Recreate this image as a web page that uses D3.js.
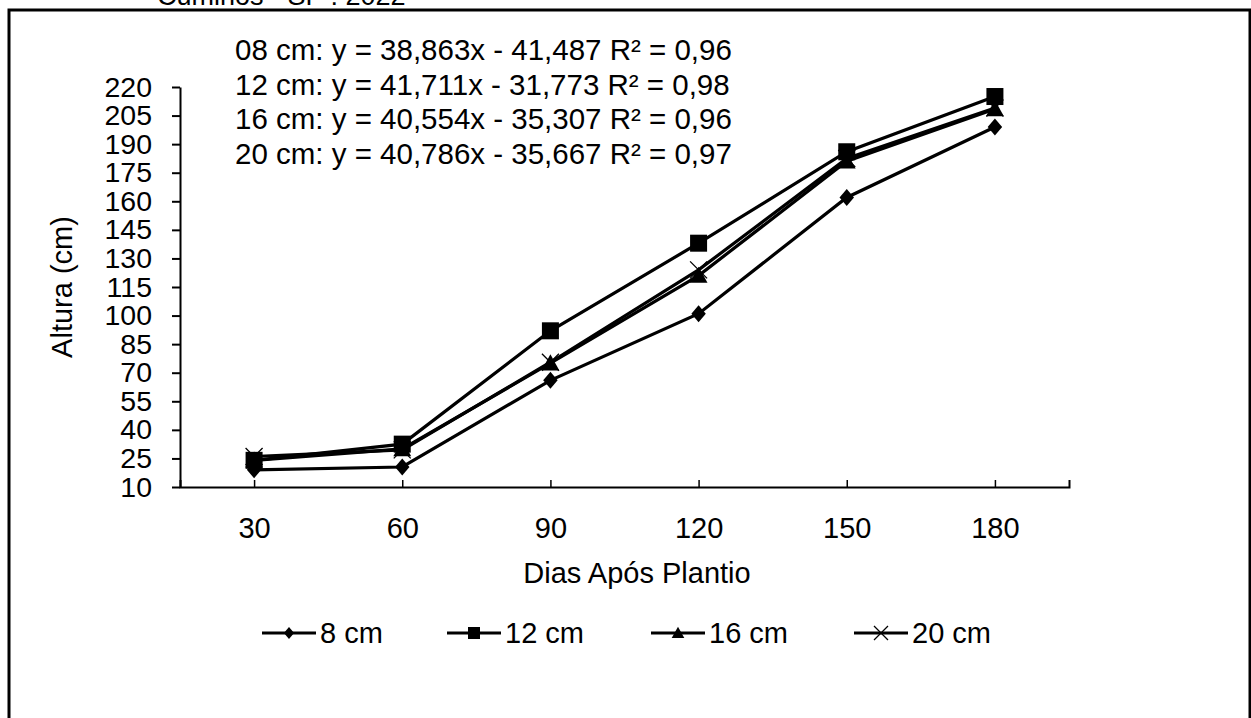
<!DOCTYPE html>
<html>
<head>
<meta charset="utf-8">
<script src="https://cdn.jsdelivr.net/npm/d3@7"></script>
<style>
  html, body { margin: 0; padding: 0; background: #fff; }
  svg { display: block; font-family: "Liberation Sans", Arial, sans-serif; }
</style>
</head>
<body>
<script>
// dias após plantio
const dias = ["30", "60", "90", "120", "150", "180"];

// altura (cm)
const alt08 = [19, 20.5, 66, 101, 162, 199];
const alt12 = [24, 32.5, 92, 138, 186, 215];
const alt16 = [24, 30, 75, 121, 181, 208.5];
const alt20 = [26, 29.5, 75.5, 124, 182.5, 209];

const series = [
  { nome: "8 cm", valores: alt08, marca: "diamond" },
  { nome: "12 cm", valores: alt12, marca: "square" },
  { nome: "16 cm", valores: alt16, marca: "triangle" },
  { nome: "20 cm", valores: alt20, marca: "x" },
];

const yTicks = d3.range(10, 221, 15);

const equacoes = [
  "08 cm: y = 38,863x - 41,487 R² = 0,96",
  "12 cm: y = 41,711x - 31,773 R² = 0,98",
  "16 cm: y = 40,554x - 35,307 R² = 0,96",
  "20 cm: y = 40,786x - 35,667 R² = 0,97",
];

const width = 1251;
const height = 718;
const fs = 29;

const svg = d3.select("body").append("svg")
  .attr("width", width)
  .attr("height", height);

// moldura
svg.append("rect")
  .attr("x", 9).attr("y", 10)
  .attr("width", 1241).attr("height", 730)
  .attr("fill", "none").attr("stroke", "#000").attr("stroke-width", 3);

// título cortado no topo
svg.append("text")
  .attr("x", 157).attr("y", 5)
  .attr("font-size", 27)
  .text("Cuminos - SP : 2022");

const x = d3.scalePoint().domain(dias).range([180, 1069]).padding(0.5);
const y = d3.scaleLinear().domain([10, 220]).range([487, 87]);

// eixo y
const gy = svg.append("g")
  .attr("transform", "translate(180,0)")
  .call(d3.axisLeft(y).tickValues(yTicks).tickSizeInner(8).tickSizeOuter(0).tickPadding(20));
gy.select(".domain").attr("stroke-width", 2);
gy.selectAll(".tick line").attr("stroke-width", 2);
gy.selectAll("text").attr("font-size", 28.5).attr("font-family", null).attr("fill", "#000");

// eixo x
const gx = svg.append("g")
  .attr("transform", "translate(0,487)")
  .call(d3.axisBottom(x).tickSizeInner(-7).tickSizeOuter(-7).tickPadding(30));
gx.select(".domain").attr("stroke-width", 2);
gx.selectAll(".tick line").attr("stroke-width", 1.5);
gx.selectAll("text").attr("font-size", fs).attr("font-family", null).attr("fill", "#000");

// títulos dos eixos
svg.append("text")
  .attr("x", 637).attr("y", 583)
  .attr("text-anchor", "middle")
  .attr("font-size", fs)
  .text("Dias Após Plantio");

svg.append("text")
  .attr("transform", "translate(72,287) rotate(-90)")
  .attr("text-anchor", "middle")
  .attr("font-size", fs)
  .text("Altura (cm)");

// equações
svg.append("g").selectAll("text")
  .data(equacoes)
  .join("text")
  .attr("x", 235)
  .attr("y", (d, i) => 60 + i * 34.5)
  .attr("font-size", 29.5)
  .text((d) => d);

function desenhaMarca(g, tipo, s) {
  if (tipo === "diamond") {
    g.append("path").attr("d", `M0,${-s}L${s * 0.85},0L0,${s}L${-s * 0.85},0Z`).attr("fill", "#000");
  } else if (tipo === "square") {
    g.append("rect").attr("x", -s).attr("y", -s).attr("width", 2 * s).attr("height", 2 * s).attr("fill", "#000");
  } else if (tipo === "triangle") {
    g.append("path").attr("d", `M0,${-s * 1.05}L${s * 1.05},${s * 0.85}L${-s * 1.05},${s * 0.85}Z`).attr("fill", "#000");
  } else {
    g.append("path").attr("d", `M${-s},${-s}L${s},${s}M${-s},${s}L${s},${-s}`)
      .attr("stroke", "#000").attr("stroke-width", 1.3).attr("fill", "none");
  }
}

const line = d3.line().x((d, i) => x(dias[i])).y((d) => y(d));

series.forEach((s) => {
  svg.append("path")
    .datum(s.valores)
    .attr("d", line)
    .attr("fill", "none")
    .attr("stroke", "#000")
    .attr("stroke-width", 3.2);
});

series.forEach((s) => {
  s.valores.forEach((v, i) => {
    const g = svg.append("g").attr("transform", `translate(${x(dias[i])},${y(v)})`);
    desenhaMarca(g, s.marca, 8.5);
  });
});

// legenda
const legX = [262, 447, 651, 854];
series.forEach((s, i) => {
  const g = svg.append("g").attr("transform", `translate(${legX[i]},633)`);
  g.append("line").attr("x1", 0).attr("x2", 54).attr("stroke", "#000").attr("stroke-width", 3);
  desenhaMarca(g.append("g").attr("transform", "translate(27,0)"), s.marca, s.marca === "x" ? 7 : 6);
  g.append("text").attr("x", 58).attr("y", 10).attr("font-size", fs).text(s.nome);
});
</script>
</body>
</html>
